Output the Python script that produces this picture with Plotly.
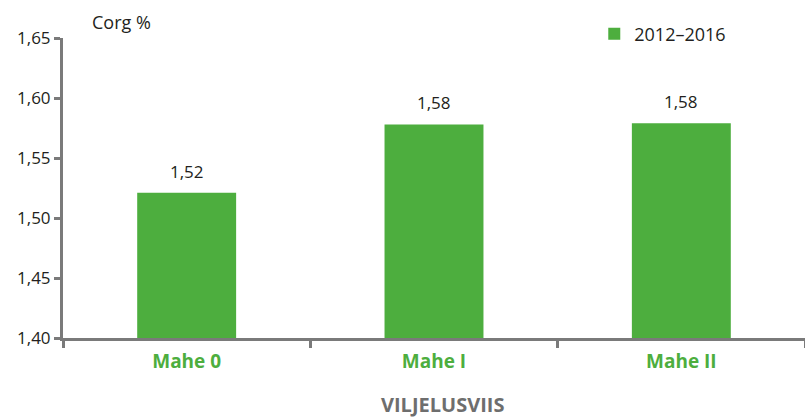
import plotly.graph_objects as go

categories = ["Mahe 0", "Mahe I", "Mahe II"]
values = [1.521, 1.578, 1.579]
series_name = "2012–2016"
y_ticks = [1.40, 1.45, 1.50, 1.55, 1.60, 1.65]
x_title = "VILJELUSVIIS"
y_title = "Corg %"

GREEN = "#4DAE3E"
AXIS = "#7a7a7a"
TXT = "#231f20"
FONT = "'Open Sans', Lato, sans-serif"

fig = go.Figure()
fig.add_trace(go.Bar(
    x=categories, y=values, name=series_name,
    marker=dict(color=GREEN, line=dict(width=0)),
))

annotations = [dict(x=c, y=v, text=f"{v:.2f}".replace(".", ","), showarrow=False,
                    yanchor="bottom", yshift=8,
                    font=dict(size=17, color=TXT, family=FONT))
               for c, v in zip(categories, values)]
annotations.append(dict(text=y_title, xref="paper", yref="paper", x=0.036, y=1.0,
                        yshift=16, xanchor="left", yanchor="middle", showarrow=False,
                        font=dict(size=18, color=TXT, family=FONT)))
annotations.append(dict(text=f"<b>{x_title}</b>", xref="paper", yref="paper", x=0.511, y=0,
                        yshift=-66, xanchor="center", yanchor="middle", showarrow=False,
                        borderpad=0,
                        font=dict(size=20, color="#6e6e6e", family=FONT)))

fig.update_layout(
    width=805, height=419,
    margin=dict(l=63, r=0, t=38, b=81, autoexpand=False),
    paper_bgcolor="white", plot_bgcolor="white",
    separators=", ",
    bargap=0.6,
    font=dict(family=FONT, size=16, color=TXT),
    showlegend=True,
    legend=dict(x=0.716, y=1.013, xanchor="left", yanchor="middle",
                font=dict(size=18, color=TXT, family=FONT), itemwidth=30,
                bgcolor="rgba(0,0,0,0)"),
    xaxis=dict(
        showline=True, linecolor=AXIS, linewidth=3,
        ticks="outside", tickson="boundaries", ticklen=7, tickwidth=3, tickcolor=AXIS,
        tickfont=dict(size=19, color=GREEN, family=FONT, weight="bold"),
        ticklabelstandoff=4,
        showgrid=False, range=[-0.5, 2.5], automargin=False,
    ),
    yaxis=dict(
        range=[1.40, 1.65], tickvals=y_ticks, tickformat=".2f",
        showline=True, linecolor=AXIS, linewidth=3,
        ticks="outside", ticklen=6, tickwidth=3, tickcolor=AXIS,
        tickfont=dict(size=17, color=TXT, family=FONT),
        showgrid=False, zeroline=False, automargin=False,
    ),
    annotations=annotations,
)

fig.write_html("out.html", config={"displayModeBar": False},
               post_script="document.body.style.margin='0';document.body.style.padding='0';")
